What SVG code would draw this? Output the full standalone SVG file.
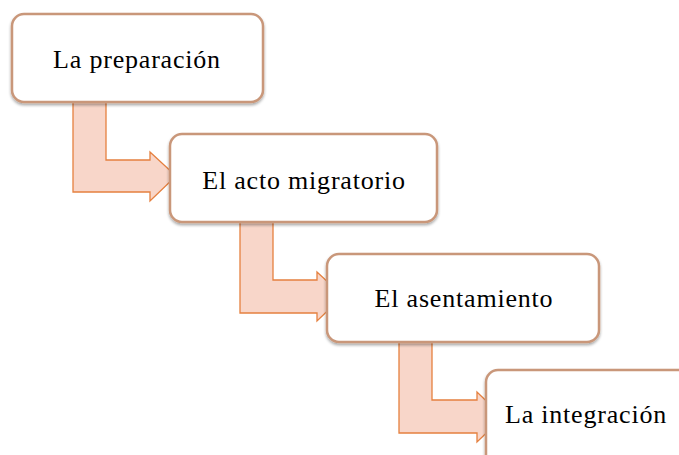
<svg xmlns="http://www.w3.org/2000/svg" width="679" height="455" viewBox="0 0 679 455">
<defs>
<style>
.box{fill:#ffffff;stroke:#c9977a;stroke-width:2.5}
.arr{fill:#f8d6c9;stroke:#e5803f;stroke-width:1.3}
.t{font-family:"Liberation Serif","Times New Roman",serif;font-size:26px;letter-spacing:0.8px;fill:#000;text-anchor:middle}
</style>
<filter id="sh" x="-10%" y="-10%" width="120%" height="130%">
<feGaussianBlur in="SourceAlpha" stdDeviation="1.5"/>
<feOffset dx="0" dy="1.5" result="b"/>
<feComponentTransfer><feFuncA type="linear" slope="0.35"/></feComponentTransfer>
<feMerge><feMergeNode/><feMergeNode in="SourceGraphic"/></feMerge>
</filter>
</defs>
<rect width="679" height="455" fill="#ffffff"/>
<g id="connectors">
<path class="arr" d="M73,102 H106 V160 H150 V152 L176,176 L150,201 V192 H73 Z"/>
<path class="arr" d="M240,222 H273 V280 H317 V272 L343,296 L317,321 V313 H240 Z"/>
<path class="arr" d="M399,342 H432 V400 H477 V392 L503,417 L477,442 V433 H399 Z"/>
</g>
<g id="n1">
<rect class="box" filter="url(#sh)" x="12" y="14" width="251" height="88" rx="12"/>
<text class="t" x="137" y="68">La preparación</text>
</g>
<g id="n2">
<rect class="box" filter="url(#sh)" x="170" y="134" width="267" height="88" rx="12"/>
<text class="t" x="304" y="189">El acto migratorio</text>
</g>
<g id="n3">
<rect class="box" filter="url(#sh)" x="327" y="254" width="272" height="88" rx="12"/>
<text class="t" x="464" y="307">El asentamiento</text>
</g>
<g id="n4">
<rect class="box" filter="url(#sh)" x="486" y="370" width="210" height="100" rx="12"/>
<text class="t" x="586" y="423">La integración</text>
</g>
</svg>
